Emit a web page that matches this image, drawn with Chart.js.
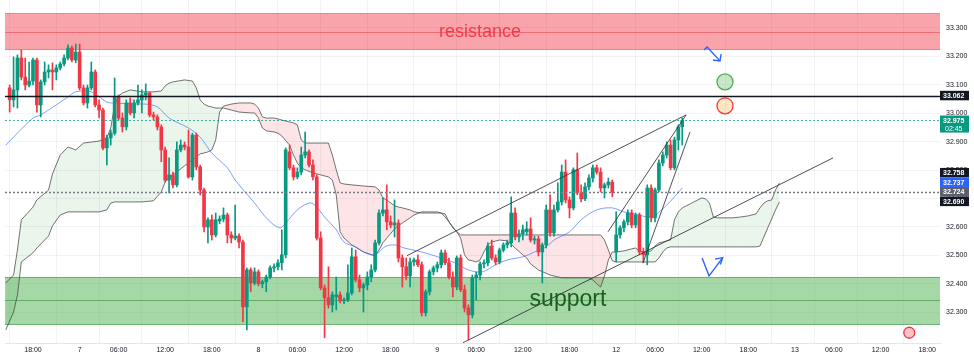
<!DOCTYPE html>
<html><head><meta charset="utf-8">
<script src="https://cdn.jsdelivr.net/npm/chart.js@4/dist/chart.umd.min.js"></script>
<style>html,body{margin:0;padding:0;background:#fff;overflow:hidden}#wrap{width:974px;height:356px}</style>
</head><body><div id="wrap"><canvas id="c" width="974" height="356"></canvas></div>
<script>
// ---------- DATA (30-min candles, x = time slot index, 0 = 18:00 on day 6) ----------
const firstSlot = -6;
const openP = [
33.089,33.047,33.082,33.194,33.127,33.099,33.113,33.187,33.029,33.110,
33.145,33.152,33.145,33.159,33.173,33.194,33.229,33.187,33.215,33.089,
33.036,33.089,33.145,33.029,33.011,32.878,32.913,32.930,33.057,32.983,
32.952,33.036,33.001,33.036,33.047,33.064,33.071,32.994,32.987,32.952,
32.871,32.765,32.783,32.748,32.871,32.888,32.881,32.776,32.923,32.811,
32.730,32.600,32.625,32.572,32.621,32.628,32.642,32.572,32.561,32.568,
32.547,32.319,32.449,32.403,32.442,32.400,32.407,32.424,32.456,32.460,
32.474,32.502,32.864,32.808,32.776,32.793,32.853,32.864,32.818,32.776,
32.561,32.386,32.351,32.326,32.354,32.361,32.340,32.344,32.368,32.495,
32.414,32.386,32.396,32.424,32.449,32.544,32.649,32.660,32.618,32.607,
32.614,32.491,32.460,32.428,32.477,32.484,32.467,32.298,32.372,32.442,
32.456,32.467,32.509,32.474,32.424,32.389,32.491,32.379,32.315,32.291,
32.421,32.431,32.470,32.474,32.533,32.491,32.477,32.519,32.537,32.544,
32.649,32.565,32.576,32.583,32.593,32.554,32.558,32.512,32.537,32.660,
32.579,32.660,32.688,32.793,32.695,32.667,32.801,32.720,32.699,32.741,
32.772,32.808,32.793,32.737,32.748,32.758,32.512,32.572,32.597,32.618,
32.649,32.607,32.642,32.512,32.502,32.737,32.632,32.730,32.825,32.853,
32.888,32.808,32.906,32.952];
const highP = [
33.099,33.198,33.205,33.222,33.194,33.180,33.194,33.194,33.117,33.180,
33.170,33.177,33.170,33.180,33.205,33.240,33.236,33.243,33.243,33.099,
33.099,33.180,33.152,33.047,33.018,32.923,32.941,33.124,33.064,33.001,
33.047,33.053,33.047,33.099,33.082,33.103,33.075,33.004,32.994,32.959,
32.881,32.843,32.793,32.899,32.906,32.899,32.941,32.930,32.930,32.818,
32.737,32.632,32.642,32.649,32.639,32.667,32.649,32.583,32.677,32.576,
32.554,32.456,32.456,32.456,32.449,32.414,32.431,32.463,32.470,32.484,
32.590,32.878,32.888,32.818,32.808,32.881,32.934,32.871,32.836,32.783,
32.583,32.396,32.460,32.372,32.424,32.372,32.351,32.467,32.526,32.519,
32.431,32.403,32.442,32.467,32.554,32.660,32.702,32.748,32.639,32.695,
32.625,32.502,32.491,32.491,32.491,32.502,32.477,32.379,32.449,32.463,
32.477,32.519,32.519,32.491,32.442,32.498,32.502,32.396,32.326,32.431,
32.442,32.477,32.484,32.544,32.554,32.502,32.526,32.544,32.554,32.706,
32.667,32.590,32.607,32.618,32.632,32.568,32.568,32.544,32.677,32.713,
32.677,32.755,32.818,32.836,32.706,32.808,32.860,32.748,32.755,32.783,
32.818,32.818,32.808,32.755,32.772,32.765,32.653,32.604,32.625,32.660,
32.660,32.649,32.649,32.526,32.748,32.748,32.737,32.836,32.864,32.899,
32.906,32.916,32.959,32.983];
const lowP = [
33.004,33.022,33.018,33.117,33.082,33.092,33.099,33.004,32.987,33.099,
33.124,33.082,33.117,33.152,33.166,33.187,33.180,33.177,33.082,33.029,
33.018,33.082,33.022,32.983,32.871,32.818,32.888,32.923,32.976,32.934,
32.941,32.994,32.983,33.029,33.001,33.047,32.987,32.976,32.941,32.829,
32.758,32.720,32.737,32.741,32.864,32.871,32.772,32.765,32.801,32.713,
32.583,32.544,32.554,32.565,32.611,32.618,32.544,32.544,32.554,32.526,
32.266,32.238,32.372,32.396,32.393,32.386,32.372,32.417,32.442,32.449,
32.449,32.491,32.801,32.765,32.769,32.783,32.843,32.811,32.765,32.554,
32.379,32.210,32.315,32.301,32.308,32.333,32.330,32.337,32.361,32.407,
32.372,32.301,32.379,32.407,32.442,32.537,32.639,32.590,32.597,32.565,
32.477,32.389,32.414,32.389,32.463,32.460,32.287,32.287,32.361,32.431,
32.442,32.456,32.467,32.417,32.354,32.379,32.372,32.301,32.203,32.280,
32.344,32.414,32.456,32.463,32.484,32.467,32.470,32.512,32.526,32.530,
32.554,32.547,32.554,32.572,32.547,32.540,32.498,32.403,32.526,32.568,
32.568,32.653,32.677,32.684,32.632,32.660,32.713,32.688,32.692,32.730,
32.758,32.786,32.723,32.702,32.737,32.706,32.477,32.561,32.583,32.607,
32.597,32.597,32.502,32.474,32.467,32.618,32.618,32.723,32.815,32.843,
32.801,32.801,32.871,32.888];
const closeP = [
33.047,33.082,33.194,33.127,33.099,33.113,33.187,33.029,33.110,33.145,
33.152,33.145,33.159,33.173,33.194,33.229,33.187,33.215,33.089,33.036,
33.089,33.145,33.029,33.011,32.878,32.913,32.930,33.057,32.983,32.952,
33.036,33.001,33.036,33.047,33.064,33.071,32.994,32.987,32.952,32.871,
32.765,32.783,32.748,32.871,32.888,32.881,32.776,32.923,32.811,32.730,
32.600,32.625,32.572,32.625,32.628,32.642,32.572,32.561,32.568,32.547,
32.319,32.449,32.403,32.442,32.400,32.407,32.424,32.456,32.460,32.474,
32.502,32.871,32.808,32.776,32.793,32.853,32.864,32.818,32.776,32.561,
32.386,32.351,32.326,32.361,32.361,32.340,32.344,32.368,32.495,32.414,
32.386,32.396,32.424,32.449,32.544,32.649,32.660,32.618,32.607,32.614,
32.491,32.460,32.428,32.477,32.484,32.467,32.298,32.372,32.442,32.456,
32.467,32.509,32.474,32.424,32.389,32.491,32.379,32.315,32.291,32.421,
32.431,32.470,32.474,32.533,32.491,32.477,32.519,32.537,32.544,32.649,
32.565,32.576,32.590,32.593,32.554,32.558,32.512,32.537,32.660,32.579,
32.660,32.688,32.793,32.695,32.667,32.801,32.720,32.699,32.741,32.772,
32.808,32.793,32.737,32.748,32.758,32.723,32.572,32.597,32.618,32.649,
32.607,32.642,32.512,32.502,32.737,32.632,32.730,32.825,32.853,32.888,
32.808,32.906,32.952,32.975];

// moving average (blue)
const maSlots = [-7,0,2,9,11,15,19,21,26,29,32,35,40,43,46,50,52,57,60.5,63.5,65,68,71,72.5,75,78,80,83,85.5,88,90.5,93,95.5,100,105,108.5,112,115.5,119,122,126,129,132,134,138,141,145,149,152,156,158,160,163,165,167];
const maValues = [32.888,32.983,32.994,33.057,33.075,33.075,33.039,33.036,33.032,33.032,33.022,32.983,32.948,32.916,32.860,32.808,32.765,32.684,32.625,32.597,32.614,32.660,32.684,32.677,32.635,32.590,32.547,32.530,32.509,32.502,32.530,32.537,32.526,32.512,32.491,32.474,32.449,32.442,32.467,32.484,32.495,32.512,32.530,32.554,32.583,32.625,32.660,32.667,32.653,32.642,32.635,32.642,32.677,32.706,32.737];

// Ichimoku cloud (leading span A / B)
const cloudSlots = [
-7,-5,-4,-3,0,1,4,5,7,9,
11,13,17,19,20,21,22,23,25,28,
31,33,34,35,36,39,41,42,43,44,
45,46,47,48,49,51,53,56,57,58,
59,60,62,63,64,66,67,68,69,70,
72,74,76,77,78,79,80,82,85,88,
89,90,91,93,94,95,97,98,100,102,
104,105,106,107,108,109,110,111,112,113,
114,115,116,117,118,120,122,123,124,126,
127,128,130,133,136,140,143,144,145,146,
147,148,149,150,152,154,155,156,157,158,
159,160,161,162,163,164,165,166,167,168,
170,172,173,174,175,176,178,180,182,184,
186,187,188,189,190,191,192];
const spanA = [
32.403,32.431,32.519,32.625,32.670,32.695,32.730,32.786,32.853,32.881,
32.871,32.895,32.902,32.913,32.948,33.029,33.061,33.071,33.082,33.075,
33.075,33.078,33.096,33.106,33.110,33.117,33.113,33.089,33.047,33.032,
33.025,33.022,33.018,33.018,33.018,33.011,33.004,33.001,33.001,32.983,
32.948,32.938,32.934,32.930,32.920,32.888,32.853,32.825,32.808,32.801,
32.790,32.783,32.776,32.765,32.713,32.583,32.561,32.537,32.512,32.498,
32.519,32.544,32.561,32.593,32.604,32.614,32.632,32.642,32.653,32.653,
32.653,32.649,32.635,32.618,32.600,32.583,32.561,32.502,32.484,32.481,
32.477,32.484,32.512,32.537,32.547,32.554,32.551,32.540,32.526,32.502,
32.491,32.470,32.449,32.431,32.421,32.421,32.421,32.414,32.400,32.389,
32.428,32.484,32.512,32.512,32.516,32.523,32.526,32.516,32.512,32.512,
32.516,32.533,32.544,32.547,32.551,32.554,32.625,32.653,32.667,32.674,
32.688,32.702,32.699,32.684,32.635,32.632,32.632,32.632,32.635,32.639,
32.646,32.667,32.684,32.692,32.695,32.730,32.755];
const spanB = [
32.238,32.301,32.361,32.477,32.509,32.526,32.568,32.604,32.642,32.653,
32.653,32.653,32.653,32.660,32.684,32.688,32.688,32.688,32.688,32.688,
32.692,32.723,32.758,32.772,32.783,32.815,32.836,32.846,32.857,32.860,
32.864,32.871,32.906,33.004,33.025,33.032,33.036,33.036,33.032,33.018,
32.987,32.983,32.983,32.980,32.976,32.969,32.966,32.959,32.906,32.895,
32.895,32.895,32.895,32.853,32.801,32.755,32.751,32.748,32.744,32.741,
32.730,32.702,32.695,32.674,32.670,32.667,32.660,32.653,32.649,32.649,
32.649,32.649,32.646,32.618,32.597,32.583,32.572,32.572,32.572,32.572,
32.572,32.572,32.572,32.572,32.572,32.572,32.572,32.572,32.572,32.572,
32.572,32.572,32.572,32.572,32.572,32.572,32.572,32.572,32.572,32.572,
32.554,32.519,32.481,32.477,32.477,32.477,32.477,32.477,32.477,32.477,
32.477,32.477,32.491,32.512,32.526,32.530,32.530,32.530,32.530,32.530,
32.530,32.530,32.530,32.530,32.530,32.530,32.530,32.530,32.530,32.530,
32.530,32.533,32.565,32.597,32.628,32.660,32.688];

// drawn trend lines: [slot, price] end points
const trendLines = [
  [[96.2,32.499],[168.0,32.994]],
  [[110.6,32.193],[205.8,32.843]],
  [[147.9,32.583],[168.0,32.994]],
  [[156.9,32.474],[169.0,32.934]]
];
// blue hand-drawn arrows
const arrowUpPath = [[172.1,32.491],[173.9,32.428],[177.4,32.492]];
const arrowUpHead = [[175.4,32.487],[177.4,32.492],[176.8,32.468]];
const arrowDownPath = [[172.6,33.222],[173.4,33.233],[176.7,33.184]];
const arrowDownHead = [[174.9,33.187],[176.7,33.184],[177.0,33.208]];
// signal circles
const circleSlots = [178.0, 178.0];
const circlePrices = [33.110, 33.026];
// zones
const zoneNames = ['resistance','support'];
const zoneTop = [33.352, 32.424];
const zoneBottom = [33.222, 32.256];
const zoneMid = [33.286, 32.344];
const zoneLabelSlot = [115.0, 137.6];
// horizontal price lines
const lineLevels = [33.062, 32.975, 32.724];
// right-side price tags
const tagValues = [33.062, 32.975, 32.758, 32.737, 32.724, 32.690];
const tagSub = ['', '02:45', '', '', '', ''];
// axis ticks
const tickSlots = [0,12,22,34,46,58,68,80,92,104,114,126,138,150,160,172,184,196,206,218,230];
const tickLabels = ['18:00','7','06:00','12:00','18:00','8','06:00','12:00','18:00','9','06:00','12:00','18:00','12','06:00','12:00','18:00','13','06:00','12:00','18:00'];
const yTickValues = [32.3,32.4,32.5,32.6,32.7,32.8,32.9,33.0,33.1,33.2,33.3];
// event marker on the time axis
const eventSlot = [225.4];
const eventPrice = [32.228];

// ---------- STYLE ----------
const UP = '#089981', DOWN = '#f23645';
const zoneFill = ['rgba(242,54,69,0.45)','rgba(76,175,80,0.5)'];
const zoneEdge = ['rgba(242,54,69,0.35)','rgba(56,142,60,0.55)'];
const zoneMidCol = ['rgba(220,40,55,0.45)','rgba(56,142,60,0.6)'];
const zoneText = ['rgba(242,54,69,0.95)','#1b5e20'];
const zoneFont = ['18px "Liberation Sans"','23px "Liberation Sans"'];
const lineStyle = [
  {c:'#131722', w:1.6, d:[]},
  {c:'rgba(8,153,129,0.75)', w:1, d:[2,2]},
  {c:'#787b86', w:1.3, d:[2,2]}
];
const tagBg = ['#131722', '#089981', '#131722', '#2962ff', '#5d606b', '#131722'];

const slots = openP.map((_, i) => firstSlot + i);
const pts = (xs, ys) => xs.map((x, i) => ({x, y: ys[i]}));
const pairs = arr => arr.map(p => ({x: p[0], y: p[1]}));
const candleColor = ctx => closeP[ctx.dataIndex] >= openP[ctx.dataIndex] ? UP : DOWN;

const overlay = {
  id: 'overlay',
  beforeDatasetsDraw(chart) {
    const {ctx, chartArea: a, scales: {y}} = chart;
    ctx.save();
    ctx.beginPath(); ctx.rect(a.left, a.top, a.right - a.left, a.bottom - a.top); ctx.clip();
    for (let i = 0; i < zoneNames.length; i++) {
      const y1 = y.getPixelForValue(zoneTop[i]), y2 = y.getPixelForValue(zoneBottom[i]), ym = y.getPixelForValue(zoneMid[i]);
      ctx.fillStyle = zoneFill[i];
      ctx.fillRect(a.left, y1, a.right - a.left, y2 - y1);
      ctx.lineWidth = 1;
      ctx.strokeStyle = zoneEdge[i];
      ctx.beginPath(); ctx.moveTo(a.left, Math.round(y1) + 0.5); ctx.lineTo(a.right, Math.round(y1) + 0.5);
      ctx.moveTo(a.left, Math.round(y2) - 0.5); ctx.lineTo(a.right, Math.round(y2) - 0.5); ctx.stroke();
      ctx.strokeStyle = zoneMidCol[i];
      ctx.beginPath(); ctx.moveTo(a.left, Math.round(ym) + 0.5); ctx.lineTo(a.right, Math.round(ym) + 0.5); ctx.stroke();
    }
    ctx.restore();
  },
  afterDatasetsDraw(chart) {
    const {ctx, chartArea: a, scales: {x, y}} = chart;
    ctx.save();
    ctx.beginPath(); ctx.rect(a.left, a.top, a.right - a.left, a.bottom - a.top); ctx.clip();
    lineLevels.forEach((v, i) => {
      const py = Math.round(y.getPixelForValue(v)) + 0.5;
      ctx.strokeStyle = lineStyle[i].c; ctx.lineWidth = lineStyle[i].w; ctx.setLineDash(lineStyle[i].d);
      ctx.beginPath(); ctx.moveTo(a.left, py); ctx.lineTo(a.right, py); ctx.stroke();
    });
    ctx.setLineDash([]);
    ctx.textAlign = 'center'; ctx.textBaseline = 'middle';
    zoneNames.forEach((t, i) => {
      ctx.font = zoneFont[i]; ctx.fillStyle = zoneText[i];
      ctx.fillText(t, x.getPixelForValue(zoneLabelSlot[i]), y.getPixelForValue(zoneMid[i]));
    });
    ctx.restore();
  },
  afterDraw(chart) {
    const {ctx, chartArea: a, scales: {y}} = chart;
    const h = 9.5;
    const ys = tagValues.map(v => y.getPixelForValue(v));
    const order = tagValues.map((_, i) => i).filter(i => !tagSub[i]).sort((p, q) => ys[q] - ys[p]);
    let limit = Infinity;
    order.forEach(i => { if (ys[i] + h / 2 > limit) ys[i] = limit - h / 2; limit = ys[i] - h / 2; });
    ctx.save();
    ctx.font = 'bold 7px "Liberation Sans"'; ctx.textBaseline = 'middle'; ctx.textAlign = 'left';
    tagValues.forEach((v, i) => {
      const top = ys[i] - h / 2, hh = tagSub[i] ? 17 : h;
      ctx.fillStyle = tagBg[i];
      ctx.fillRect(a.right, top, 29, hh);
      ctx.fillStyle = '#fff';
      ctx.fillText(v.toFixed(3), a.right + 3, ys[i] + 0.5);
      if (tagSub[i]) { ctx.font = '7px "Liberation Sans"'; ctx.fillText(tagSub[i], a.right + 5, ys[i] + 8.5); ctx.font = 'bold 7px "Liberation Sans"'; }
    });
    ctx.restore();
  }
};

Chart.defaults.font.family = '"Liberation Sans", Arial, sans-serif';

new Chart(document.getElementById('c'), {
  type: 'line',
  data: {
    datasets: [
      { type: 'line', data: pts(cloudSlots, spanA), borderColor: 'rgba(70,70,70,0.75)', borderWidth: 1, pointRadius: 0, tension: 0,
        fill: { target: '+1', above: 'rgba(67,160,71,0.11)', below: 'rgba(242,54,69,0.13)' }, order: 10 },
      { type: 'line', data: pts(cloudSlots, spanB), borderColor: 'rgba(70,70,70,0.75)', borderWidth: 1, pointRadius: 0, tension: 0, fill: false, order: 9 },
      { type: 'line', data: pts(maSlots, maValues), borderColor: 'rgba(41,98,255,0.6)', borderWidth: 1, pointRadius: 0, tension: 0.35, fill: false, order: 8 },
      { type: 'bar', data: slots.map((s, i) => ({x: s, y: [lowP[i], highP[i]]})), backgroundColor: candleColor, barThickness: 1, grouped: false, order: 6 },
      { type: 'bar', data: slots.map((s, i) => ({x: s, y: [openP[i], closeP[i]]})), backgroundColor: candleColor, barThickness: 3, minBarLength: 1, grouped: false, order: 5 },
      ...trendLines.map(l => ({ type: 'line', data: pairs(l), borderColor: 'rgba(50,50,55,0.85)', borderWidth: 1, pointRadius: 0, fill: false, order: 3 })),
      ...[arrowUpPath, arrowUpHead, arrowDownPath, arrowDownHead].map(l => ({ type: 'line', data: pairs(l), borderColor: '#2962ff', borderWidth: 1.4, pointRadius: 0, fill: false, tension: 0, order: 2 })),
      { type: 'line', data: pts(circleSlots, circlePrices), showLine: false, pointRadius: 8, pointBorderWidth: 1.3,
        pointBackgroundColor: ['rgba(76,175,80,0.3)', 'rgba(255,183,77,0.35)'], pointBorderColor: ['#4caf50', '#f23645'], order: 1 },
      { type: 'line', data: pts(eventSlot, eventPrice), showLine: false, pointRadius: 5.5, pointBorderWidth: 1.3,
        pointBackgroundColor: '#f7c3c7', pointBorderColor: '#f23645', order: 1 }
    ]
  },
  options: {
    responsive: false, animation: false, devicePixelRatio: 1,
    layout: { autoPadding: false, padding: { left: 5, top: 0, right: 0, bottom: 0 } },
    plugins: { legend: { display: false }, tooltip: { enabled: false } },
    events: [],
    scales: {
      x: {
        type: 'linear', min: -7.2, max: 233.3, offset: false,
        grid: { color: 'rgba(42,46,57,0.06)', drawTicks: false },
        border: { display: true, color: 'rgba(42,46,57,0.12)' },
        ticks: { font: { size: 7 }, color: '#131722', padding: 3, maxRotation: 0, autoSkip: false,
          callback: v => { const k = tickSlots.indexOf(v); return k < 0 ? '' : tickLabels[k]; } },
        afterBuildTicks: s => { s.ticks = tickSlots.map(v => ({ value: v })); },
        afterFit: s => { s.height = 13; s.paddingLeft = 0; s.paddingRight = 0; s.paddingTop = 0; s.paddingBottom = 0; }
      },
      y: {
        position: 'right', min: 32.192, max: 33.398,
        grid: { color: 'rgba(42,46,57,0.06)', drawTicks: false },
        border: { display: false },
        ticks: { font: { size: 7 }, color: '#131722', padding: 6, callback: v => Number(v).toFixed(3) },
        afterBuildTicks: s => { s.ticks = yTickValues.map(v => ({ value: v })); },
        afterFit: s => { s.width = 34; s.paddingLeft = 0; s.paddingRight = 0; s.paddingTop = 0; s.paddingBottom = 0; }
      }
    }
  },
  plugins: [overlay]
});
</script></body></html>
